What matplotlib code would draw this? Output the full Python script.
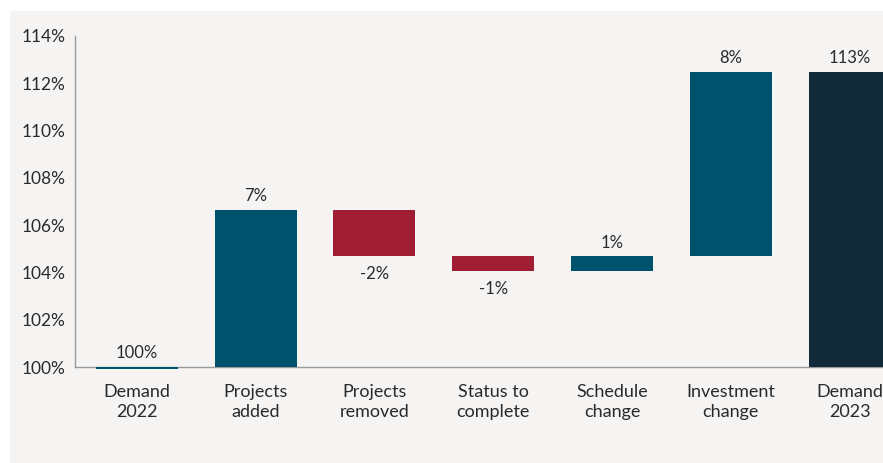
import matplotlib.pyplot as plt
from matplotlib.patches import Rectangle

# waterfall data (percent of 2022 demand)
categories = ["Demand\n2022", "Projects\nadded", "Projects\nremoved", "Status to\ncomplete",
              "Schedule\nchange", "Investment\nchange", "Demand\n2023"]
start_value = 100.0
changes = [6.64, -1.96, -0.62, 0.62, 7.8]
end_value = 112.48
value_labels = ["100%", "7%", "-2%", "-1%", "1%", "8%", "113%"]
y_ticks = [100, 102, 104, 106, 108, 110, 112, 114]

TEAL = "#00526c"
RED = "#a11d33"
DARK = "#112b3a"
BG = "#f5f4f3"
TXT = "#2a2a2a"

plt.rcParams["font.family"] = ["Lato", "DejaVu Sans"]

fig = plt.figure(figsize=(8.83, 4.63), dpi=100, facecolor="white")
fig.patches.append(Rectangle((10 / 883, 0), 1, (463 - 11) / 463, transform=fig.transFigure,
                             facecolor=BG, edgecolor="none", zorder=-10))

ax = fig.add_axes([75 / 883, (463 - 367) / 463, 1 - 75 / 883, (367 - 36) / 463])
ax.set_facecolor("none")
ax.set_zorder(1)

w = 0.69
lab_fs = 12


def label(x, y, text, up=True):
    if up:
        ax.annotate(text, (x, y), xytext=(0, 4), textcoords="offset points",
                    ha="center", va="bottom", fontsize=lab_fs, color=TXT)
    else:
        ax.annotate(text, (x, y), xytext=(0, -7), textcoords="offset points",
                    ha="center", va="top", fontsize=lab_fs, color=TXT)


# first bar: thin line just below 100%
ax.bar(0, -0.1, bottom=start_value, width=w, color=TEAL, clip_on=False, zorder=3)
label(0, start_value, value_labels[0])

level = start_value
for i, d in enumerate(changes, start=1):
    color = TEAL if d >= 0 else RED
    ax.bar(i, d, bottom=level, width=w, color=color, zorder=3)
    label(i, level + d, value_labels[i], up=d >= 0)
    level += d

ax.bar(6, end_value - start_value, bottom=start_value, width=w, color=DARK, zorder=3)
label(6, end_value, value_labels[6])

ax.set_xlim(-0.52, 6.28)
ax.set_ylim(100, 114)
ax.set_yticks(y_ticks)
ax.set_yticklabels([f"{t}%" for t in y_ticks])
ax.set_xticks(range(len(categories)))
ax.set_xticklabels(categories, linespacing=1.3)
ax.tick_params(axis="both", length=0, colors=TXT)
ax.tick_params(axis="x", pad=12, labelsize=13)
ax.tick_params(axis="y", pad=7, labelsize=12.5)

for s in ["top", "right"]:
    ax.spines[s].set_visible(False)
for s in ["left", "bottom"]:
    ax.spines[s].set_color("#9a9a9a")
    ax.spines[s].set_linewidth(1.0)

fig.savefig("out.png", dpi=100, facecolor=fig.get_facecolor())
